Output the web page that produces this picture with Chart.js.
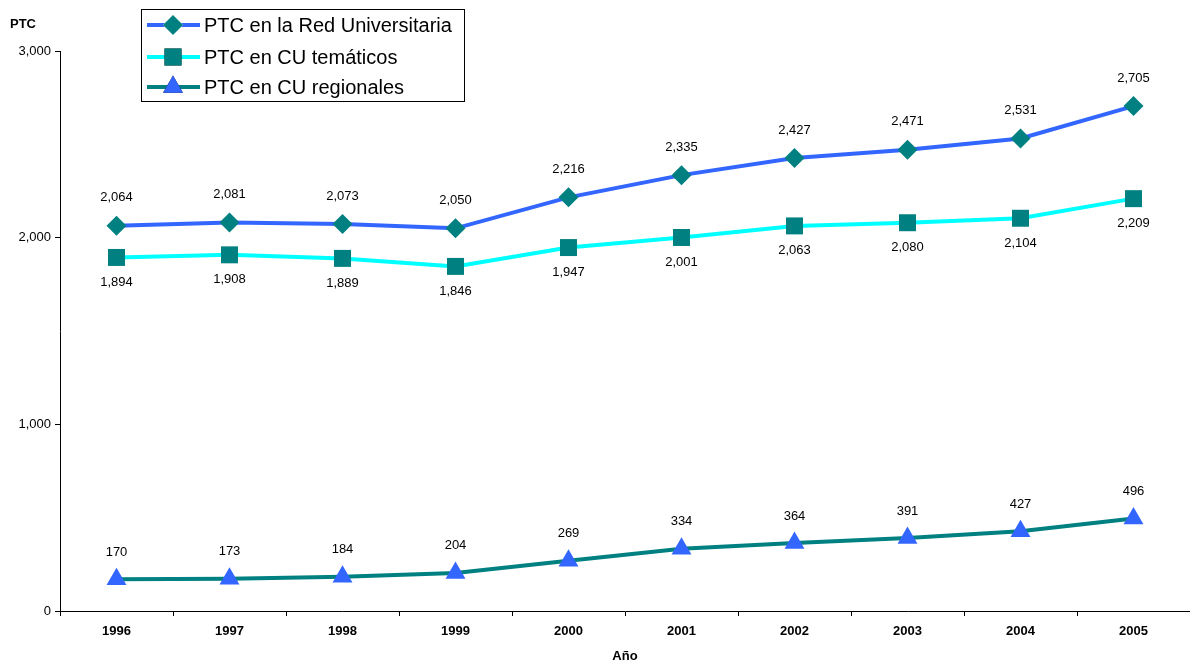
<!DOCTYPE html>
<html>
<head>
<meta charset="utf-8">
<script src="https://cdn.jsdelivr.net/npm/chart.js@4/dist/chart.umd.min.js"></script>
<style>
html,body{margin:0;padding:0;background:#fff;}
#wrap{width:1190px;height:666px;position:relative;}
</style>
</head>
<body>
<div id="wrap"><canvas id="c" width="1190" height="666"></canvas></div>
<script>
const years = ['1996','1997','1998','1999','2000','2001','2002','2003','2004','2005'];
const redUniversitaria = [2064, 2081, 2073, 2050, 2216, 2335, 2427, 2471, 2531, 2705];
const cuTematicos = [1894, 1908, 1889, 1846, 1947, 2001, 2063, 2080, 2104, 2209];
const cuRegionales = [170, 173, 184, 204, 269, 334, 364, 391, 427, 496];
const seriesNames = ['PTC en la Red Universitaria', 'PTC en CU temáticos', 'PTC en CU regionales'];
const yTicks = [0, 1000, 2000, 3000];

const FONT = "'Liberation Sans', Arial, sans-serif";
const fmt = v => v.toLocaleString('en-US');

const BLUE = '#3366FF', CYAN = '#00FFFF', TEAL = '#008080';

const datasets = [
  {label: seriesNames[0], data: redUniversitaria, borderColor: BLUE, backgroundColor: TEAL,
   pointStyle: 'rectRot', pointRadius: 10, pointBorderWidth: 0, pointBorderColor: TEAL, borderWidth: 4, tension: 0,
   labelOffset: -28},
  {label: seriesNames[1], data: cuTematicos, borderColor: CYAN, backgroundColor: TEAL,
   pointStyle: 'rect', pointRadius: 12, pointBorderWidth: 0, pointBorderColor: TEAL, borderWidth: 4, tension: 0,
   labelOffset: 25},
  {label: seriesNames[2], data: cuRegionales, borderColor: TEAL, backgroundColor: BLUE,
   pointStyle: 'triangle', pointRadius: 11.5, pointBorderWidth: 0, pointBorderColor: BLUE, borderWidth: 4, tension: 0,
   labelOffset: -27}
];

const extras = {
  id: 'extras',
  afterDatasetsDraw(chart) {
    const ctx = chart.ctx;
    ctx.save();
    ctx.font = '13px ' + FONT;
    ctx.fillStyle = '#000';
    ctx.textAlign = 'center';
    ctx.textBaseline = 'middle';
    chart.data.datasets.forEach((ds, i) => {
      const meta = chart.getDatasetMeta(i);
      meta.data.forEach((pt, j) => {
        ctx.fillText(fmt(ds.data[j]), pt.x, pt.y + ds.labelOffset);
      });
    });
    ctx.restore();
  },
  afterDraw(chart) {
    const ctx = chart.ctx;
    ctx.save();
    ctx.font = 'bold 13px ' + FONT;
    ctx.fillStyle = '#000';
    ctx.textAlign = 'center';
    ctx.textBaseline = 'middle';
    ctx.fillText('PTC', 23, 24);
    const bx = 141.5, by = 9.5, bw = 323, bh = 92;
    ctx.fillStyle = '#fff';
    ctx.fillRect(bx, by, bw, bh);
    ctx.strokeStyle = '#000';
    ctx.lineWidth = 1;
    ctx.strokeRect(bx, by, bw, bh);
    const rows = [25, 57, 87];
    chart.data.datasets.forEach((ds, i) => {
      const y = rows[i];
      ctx.strokeStyle = ds.borderColor;
      ctx.lineWidth = 4;
      ctx.beginPath();
      ctx.moveTo(147, y);
      ctx.lineTo(200, y);
      ctx.stroke();
      Chart.helpers.drawPoint(ctx, {pointStyle: ds.pointStyle, radius: ds.pointRadius, rotation: 0, borderWidth: 0}, 173, y);
      ctx.fillStyle = ds.backgroundColor;
      ctx.fill();
      ctx.fillStyle = '#000';
      ctx.font = '20px ' + FONT;
      ctx.textAlign = 'left';
      ctx.textBaseline = 'middle';
      ctx.fillText(ds.label, 204, y + 1);
    });
    ctx.restore();
  }
};

new Chart(document.getElementById('c'), {
  type: 'line',
  data: {labels: years, datasets},
  options: {
    responsive: false,
    animation: false,
    layout: {autoPadding: false, padding: {top: 51, left: 0, right: 0, bottom: 0}},
    plugins: {legend: {display: false}, tooltip: {enabled: false}},
    scales: {
      x: {
        type: 'category',
        offset: true,
        grid: {display: true, offset: true, drawOnChartArea: false, drawTicks: true, tickLength: 5, color: '#000'},
        border: {display: true, color: '#000', width: 1},
        ticks: {font: {family: FONT, size: 13, weight: 'bold'}, color: '#000', padding: 8, maxRotation: 0, autoSkip: false},
        title: {display: true, text: 'Año', font: {family: FONT, size: 13, weight: 'bold'}, color: '#000', padding: {top: 0, bottom: 2}},
        afterFit(s) { s.height = 55; s.paddingLeft = 0; s.paddingRight = 0; }
      },
      y: {
        min: 0, max: 3000,
        afterBuildTicks(s) { s.ticks = yTicks.map(v => ({value: v})); },
        grid: {display: true, drawOnChartArea: false, drawTicks: true, tickLength: 5, color: '#000'},
        border: {display: true, color: '#000', width: 1},
        ticks: {font: {family: FONT, size: 13}, color: '#000', padding: 4, callback: v => fmt(v)},
        afterFit(s) { s.width = 60; s.paddingTop = 0; s.paddingBottom = 0; }
      }
    }
  },
  plugins: [extras]
});
</script>
</body>
</html>
